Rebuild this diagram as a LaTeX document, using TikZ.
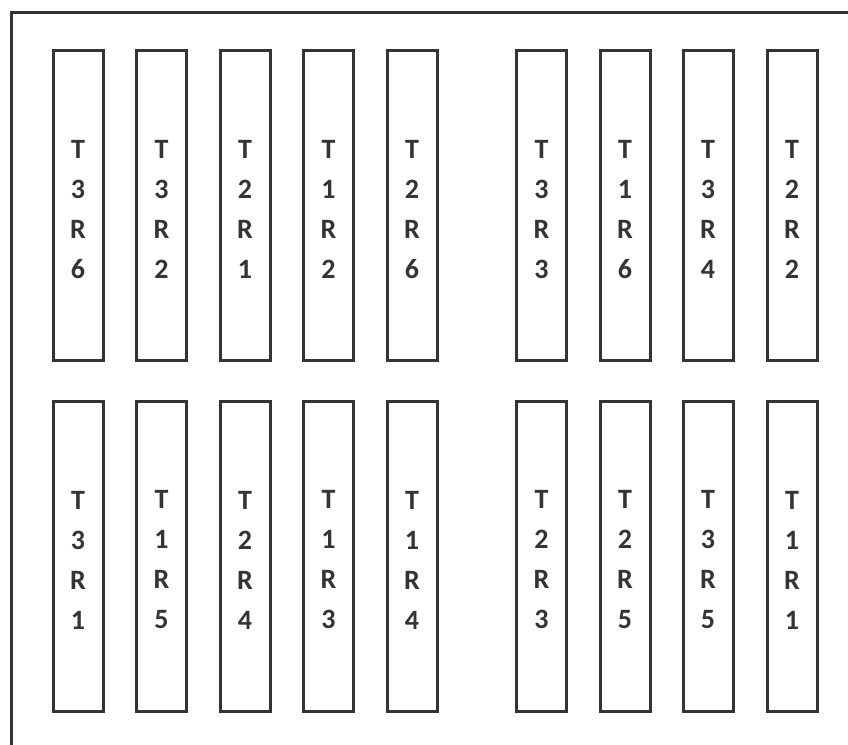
\documentclass[tikz,border=0pt]{standalone}
\usepackage{fontspec}
\setmainfont{Carlito}
\usepackage{tikz}
\usetikzlibrary{positioning}

\definecolor{inkgray}{HTML}{333338}

\begin{document}
\begin{tikzpicture}[
  x=1pt, y=-1pt,
  plotbox/.style={draw=inkgray, line width=3pt, minimum width=50pt,
                  minimum height=310pt, inner sep=0pt},
  plottext/.style={align=center, inner sep=0pt, text=inkgray,
                   font=\fontsize{28}{40}\selectfont\bfseries},
  fieldline/.style={draw=inkgray, line width=3pt}
]
\useasboundingbox (0,0) rectangle (848,744);

% field border (only top and left edges fall inside the page)
\coordinate (fieldsw) at (11.5,760);
\coordinate (fieldnw) at (11.5,12.5);
\coordinate (fieldne) at (870,12.5);
\draw[fieldline] (fieldsw) -- (fieldnw) -- (fieldne);

% upper row of plots
\foreach \px/\lab [count=\i] in {78/T\\3\\R\\6, 161.5/T\\3\\R\\2, 245/T\\2\\R\\1,
    328.5/T\\1\\R\\2, 412/T\\2\\R\\6, 541.5/T\\3\\R\\3, 625/T\\1\\R\\6,
    708/T\\3\\R\\4, 792/T\\2\\R\\2}
{
  \node[plotbox] (up\i) at (\px,205.5) {};
  \node[plottext] (up\i text) at ([yshift=-4pt]up\i.center) {\lab};
}

% lower row of plots
\foreach \px/\lab [count=\i] in {78/T\\3\\R\\1, 161.5/T\\1\\R\\5, 245/T\\2\\R\\4,
    328.5/T\\1\\R\\3, 412/T\\1\\R\\4, 541.5/T\\2\\R\\3, 625/T\\2\\R\\5,
    708/T\\3\\R\\5, 792/T\\1\\R\\1}
{
  \node[plotbox] (low\i) at (\px,556) {};
  \node[plottext] (low\i text) at ([yshift=-4pt]low\i.center) {\lab};
}

\end{tikzpicture}
\end{document}
